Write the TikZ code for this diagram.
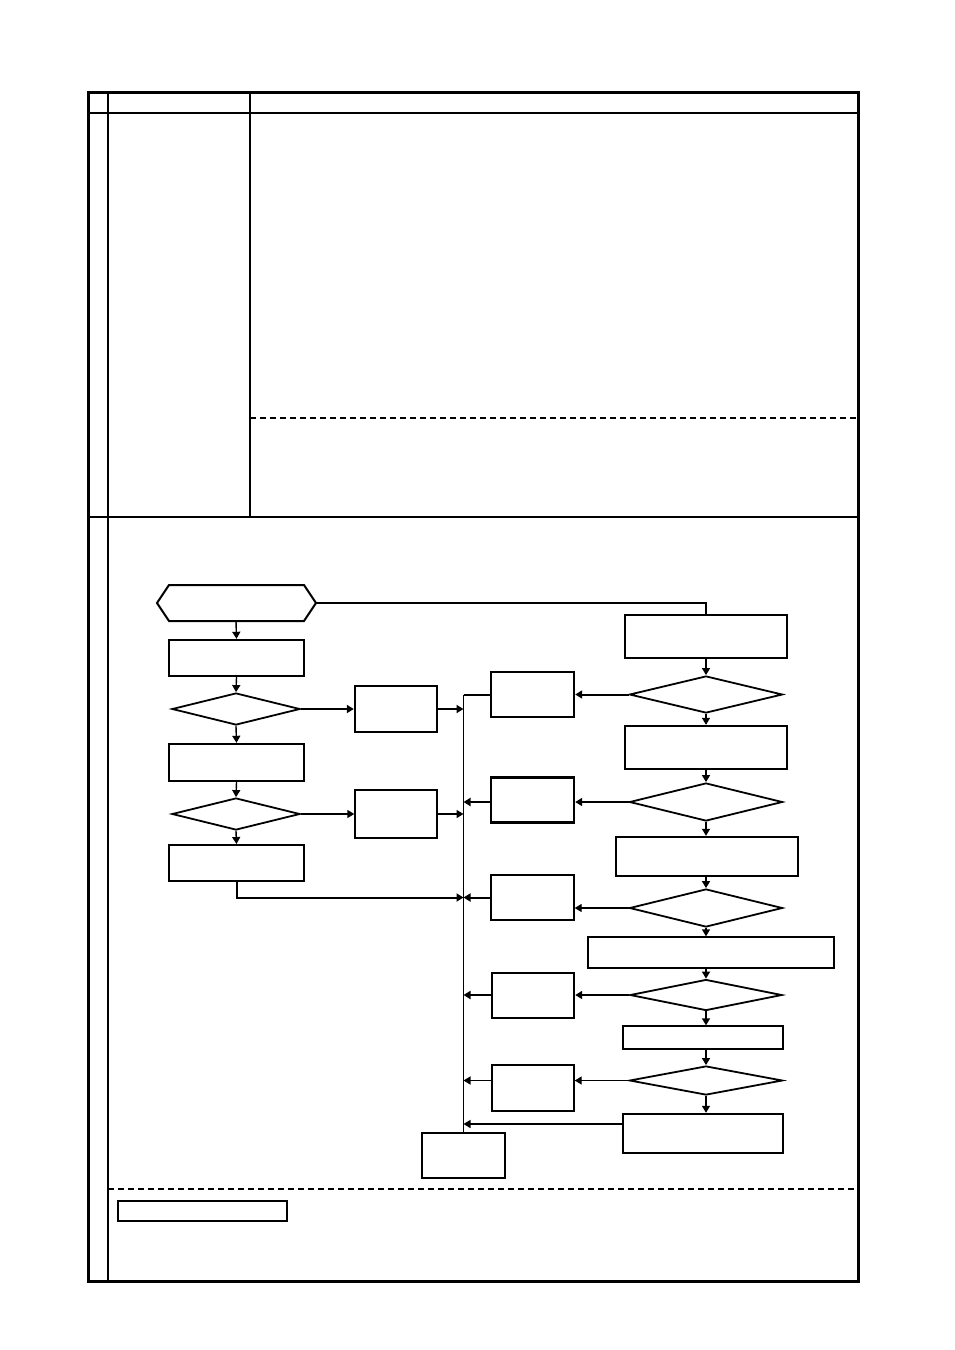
\documentclass[tikz,border=0pt]{standalone}
\usetikzlibrary{arrows.meta,shapes.geometric}
\begin{document}
\begin{tikzpicture}[x=0.5pt,y=-0.5pt,
  box/.style 2 args={draw, rectangle, inner sep=0pt, minimum width=#1*0.5pt, minimum height=#2*0.5pt},
  dia/.style 2 args={draw, diamond, inner sep=0pt, minimum width=#1*0.5pt, minimum height=#2*0.5pt, line width=0.9pt},
  thk/.style={line width=1.2pt},
  thn/.style={line width=0.7pt},
  arr/.style={-{Triangle[length=3.5pt,width=4pt]}},
  frame/.style={line width=1.5pt},
  grid/.style={line width=1pt},
  dline/.style={line width=0.6pt, dash pattern=on 3pt off 2pt}]
\useasboundingbox (0,0) rectangle (954,1350);
% table
\draw[grid] (108,92) -- (108,1281);
\draw[grid] (250,92) -- (250,517);
\draw[grid] (88,113) -- (858,113);
\draw[grid] (88,517) -- (858,517);
\draw[dline] (250,418) -- (858,418);
\draw[dline] (108,1189) -- (858,1189);
\draw[frame] (88,92) rectangle (858,1281);
\node[box={169}{20}, line width=0.9pt] (note) at (202.5,1211) {};
% hexagon
\draw[line width=1pt] (157,603) -- (169,585) -- (304,585) -- (316,603) -- (304,621) -- (169,621) -- cycle;
\coordinate (hexE) at (316,603);
\coordinate (hexS) at (236,621);
% left column
\node[box={135}{36}, thk] (L1) at (236.5,658) {};
\node[dia={128}{32}] (D1) at (236,709) {};
\node[box={82}{46}, thk] (M1) at (396,709) {};
\node[box={135}{37}, thk] (L2) at (236.5,762.5) {};
\node[dia={128}{32}] (D2) at (236,814) {};
\node[box={82}{48}, thn] (M2) at (396,814) {};
\node[box={135}{36}, line width=1pt] (L3) at (236.5,863) {};
% middle column
\node[box={83}{45}, thk] (B1) at (532.5,694.5) {};
\node[box={83}{45}, thk] (B2) at (532.5,800) {};
\node[box={83}{45}, thn] (B3) at (532.5,897.5) {};
\node[box={82}{45}, thk] (B4) at (533,995.5) {};
\node[box={82}{46}, thn] (B5) at (533,1088) {};
\node[box={83}{45}, line width=1pt] (F) at (463.5,1155.5) {};
% right column
\node[box={162}{43}, thk] (R1) at (706,636.5) {};
\node[dia={153}{37}] (DR1) at (706,694.5) {};
\node[box={162}{43}, thk] (R2) at (706,747.5) {};
\node[dia={153}{38}] (DR2) at (706,802) {};
\node[box={182}{39}, thk] (R3) at (707,856.5) {};
\node[dia={153}{38}] (DR3) at (706,908) {};
\node[box={246}{31}, thn] (R4) at (711,952.5) {};
\node[dia={152}{31}] (DR4) at (706,995) {};
\node[box={160}{23}, thn] (R5) at (703,1037.5) {};
\node[dia={153}{29}] (DR5) at (706,1080.5) {};
\node[box={160}{39}, thk] (R6) at (703,1133.5) {};
% connectors left
\draw[thn,arr] (hexS) -- (L1.north);
\draw[thn,arr] (L1.south) -- (D1.north);
\draw[thn,arr] (D1.south) -- (L2.north);
\draw[thn,arr] (L2.south) -- (D2.north);
\draw[thn,arr] (D2.south) -- (L3.north);
\draw[line width=1pt,arr] (D1.east) -- (M1.west);
\draw[line width=1pt,arr] (M1.east) -- (M1.east -| F.north);
\draw[thn,arr] (D2.east) -- (M2.west);
\draw[thn,arr] (M2.east) -- (M2.east -| F.north);
\draw[line width=1pt,arr] (L3.south) |- (B3.west -| F.north);
% top line
\draw[line width=1pt] (hexE) -| (R1.north);
% bus
\draw[line width=1pt] (B1.west) -- (B1.west -| F.north);
\draw[thn] (B1.west -| F.north) -- (F.north);
% right column vertical
\draw[thn,arr] (R1.south) -- (DR1.north);
\draw[thn,arr] (DR1.south) -- (R2.north);
\draw[thn,arr] (R2.south) -- (DR2.north);
\draw[thn,arr] (DR2.south) -- (DR2.south |- R3.north);
\draw[thn,arr] (DR2.south |- R3.south) -- (DR3.north);
\draw[thn,arr] (DR3.south) -- (DR3.south |- R4.north);
\draw[thn,arr] (DR3.south |- R4.south) -- (DR4.north);
\draw[thn,arr] (DR4.south) -- (DR4.south |- R5.north);
\draw[thn,arr] (DR4.south |- R5.south) -- (DR5.north);
\draw[thn,arr] (DR5.south) -- (DR5.south |- R6.north);
% right to middle
\draw[line width=1pt,arr] (DR1.west) -- (B1.east);
\draw[line width=1pt,arr] (DR2.west) -- (DR2.west -| B2.east);
\draw[line width=1pt,arr] (DR2.west -| B2.west) -- (DR2.west -| F.north);
\draw[thn,arr] (DR3.west) -- (DR3.west -| B3.east);
\draw[line width=1pt,arr] (B3.west) -- (B3.west -| F.north);
\draw[line width=1pt,arr] (DR4.west) -- (DR4.west -| B4.east);
\draw[line width=1pt,arr] (DR4.west -| B4.west) -- (DR4.west -| F.north);
\draw[thn,arr] (DR5.west) -- (DR5.west -| B5.east);
\draw[thn,arr] (DR5.west -| B5.west) -- (DR5.west -| F.north);
\draw[thn,arr] (R6.west |- 0,1124) -- (F.north |- 0,1124);
\end{tikzpicture}
\end{document}
